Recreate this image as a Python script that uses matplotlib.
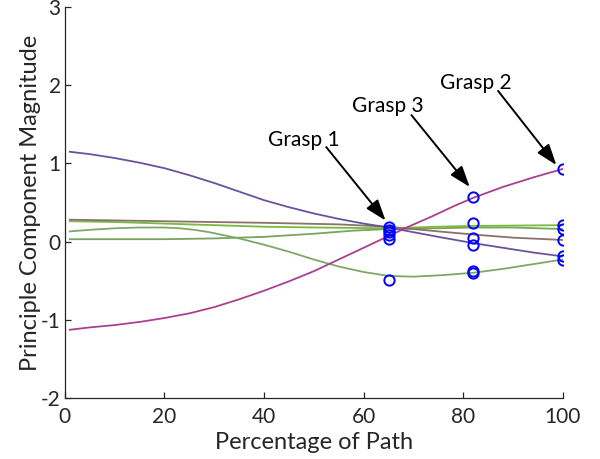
import matplotlib
matplotlib.use("Agg")
import matplotlib.pyplot as plt

plt.rcParams['font.family'] = ['Lato', 'DejaVu Sans']
plt.rcParams['axes.unicode_minus'] = False

# ---- data ----
x_purple = [1, 5, 10, 15, 20, 25, 30, 35, 40, 45, 50, 55, 60, 65, 70, 75, 82, 88, 94, 100]
y_purple = [1.15, 1.12, 1.07, 1.01, 0.94, 0.85, 0.75, 0.64, 0.53, 0.44, 0.36, 0.29, 0.23, 0.18, 0.12, 0.06, -0.02, -0.08, -0.14, -0.19]

x_magenta = [1, 5, 10, 15, 20, 25, 30, 35, 40, 45, 50, 53, 57, 61, 65, 69, 74, 78, 82, 88, 94, 100]
y_magenta = [-1.13, -1.10, -1.07, -1.03, -0.98, -0.92, -0.84, -0.74, -0.63, -0.51, -0.38, -0.29, -0.17, -0.05, 0.07, 0.19, 0.33, 0.45, 0.56, 0.70, 0.82, 0.93]

x_brown = [1, 20, 40, 55, 65, 75, 82, 90, 100]
y_brown = [0.28, 0.26, 0.24, 0.22, 0.19, 0.13, 0.09, 0.05, 0.02]

x_bright = [1, 10, 20, 30, 40, 50, 65, 75, 82, 100]
y_bright = [0.26, 0.25, 0.23, 0.21, 0.19, 0.18, 0.17, 0.19, 0.20, 0.21]

x_dip = [1, 5, 10, 15, 20, 23, 26, 29, 32, 35, 40, 45, 50, 55, 60, 65, 70, 76, 82, 88, 94, 100]
y_dip = [0.13, 0.15, 0.17, 0.18, 0.18, 0.17, 0.15, 0.12, 0.08, 0.04, -0.04, -0.13, -0.23, -0.32, -0.39, -0.44, -0.45, -0.43, -0.40, -0.35, -0.29, -0.23]

x_low = [1, 10, 20, 30, 40, 50, 58, 65, 75, 82, 90, 100]
y_low = [0.03, 0.03, 0.03, 0.04, 0.06, 0.10, 0.14, 0.16, 0.17, 0.18, 0.18, 0.16]

grasp_x = [65, 82, 100]
pts_65 = [0.19, 0.15, 0.12, 0.08, 0.03, -0.49]
pts_82 = [0.57, 0.24, 0.05, -0.05, -0.38, -0.40]
pts_100 = [0.93, 0.21, 0.16, 0.02, -0.19, -0.24]

labels = ["Grasp 1", "Grasp 3", "Grasp 2"]
label_pos = [(47.9, 1.22), (64.9, 1.66), (82.6, 1.96)]
arrow_tail = [(52.5, 1.21), (69.6, 1.62), (87.0, 1.93)]
arrow_tip = [(64.4, 0.27), (81.3, 0.70), (98.7, 0.98)]

xticks = [0, 20, 40, 60, 80, 100]
yticks = [-2, -1, 0, 1, 2, 3]

# ---- figure ----
fig = plt.figure(figsize=(6.0, 4.59), dpi=100)
ax = fig.add_axes([0.108, 0.1336, 0.830, 0.8504])

lw = 1.3
ax.plot(x_low, y_low, color='#7aa35e', lw=lw)
ax.plot(x_dip, y_dip, color='#7ea866', lw=lw)
ax.plot(x_bright, y_bright, color='#78bb3c', lw=lw)
ax.plot(x_brown, y_brown, color='#8c706a', lw=lw)
ax.plot(x_purple, y_purple, color='#6a529e', lw=lw)
ax.plot(x_magenta, y_magenta, color='#ac3f8e', lw=lw)

for gx, pts in zip(grasp_x, [pts_65, pts_82, pts_100]):
    ax.plot([gx] * len(pts), pts, linestyle='none', marker='o', markersize=7.4,
            markerfacecolor='none', markeredgecolor='#0000ff', markeredgewidth=1.4)

for lab, lp, tail, tip in zip(labels, label_pos, arrow_tail, arrow_tip):
    ax.text(lp[0], lp[1], lab, ha='center', va='baseline', fontsize=15, color='black')
    ax.annotate('', xy=tip, xytext=tail,
                arrowprops=dict(arrowstyle='-|>,head_length=0.85,head_width=0.3',
                                color='black', lw=1.4, shrinkA=0, shrinkB=0,
                                mutation_scale=15))

ax.set_xlim(0, 100)
ax.set_ylim(-2, 3)
ax.set_xticks(xticks)
ax.set_yticks(yticks)
ax.spines['top'].set_visible(False)
ax.spines['right'].set_visible(False)
for s in ['left', 'bottom']:
    ax.spines[s].set_color('#262626')
    ax.spines[s].set_linewidth(0.9)
ax.tick_params(direction='in', length=4, width=0.9, color='#262626',
               labelsize=15, labelcolor='#262626')
ax.tick_params(axis='x', pad=7)
ax.tick_params(axis='y', pad=3)
ax.set_xlabel('Percentage of Path', fontsize=17, color='#262626', labelpad=3)
ax.set_ylabel('Principle Component Magnitude', fontsize=17, color='#262626', labelpad=0)

fig.savefig('out.png', dpi=100)
